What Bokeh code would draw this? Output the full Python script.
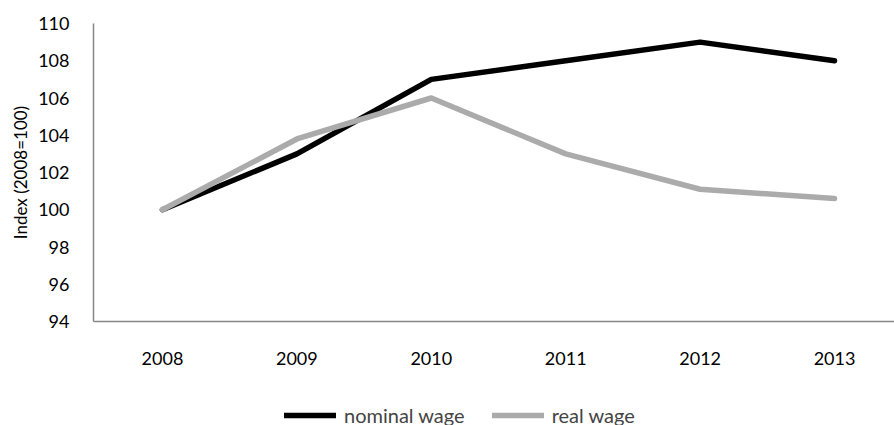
from bokeh.plotting import figure
from bokeh.layouts import column
from bokeh.models import Legend, LegendItem, Range1d, FixedTicker, Title
from bokeh.embed import file_html
from bokeh.resources import INLINE

years = [2008, 2009, 2010, 2011, 2012, 2013]
nominal_wage = [100, 103, 107, 108, 109, 108]
real_wage = [100, 103.8, 106, 103, 101.1, 100.6]
y_ticks = [94, 96, 98, 100, 102, 104, 106, 108, 110]
series_names = ["nominal wage", "real wage"]
series_colors = ["black", "#ababab"]

FONT = "Lato"
H_MAIN = 395

p = figure(width=894, height=H_MAIN, output_backend="svg", toolbar_location=None,
           x_range=Range1d(2007.487, 2013.446), y_range=Range1d(94, 110),
           min_border_left=93, min_border_right=0, min_border_top=23,
           min_border_bottom=H_MAIN - 321)
p.outline_line_color = None
p.xgrid.grid_line_color = None
p.ygrid.grid_line_color = None

for vals, col in zip([nominal_wage, real_wage], series_colors):
    p.line(years, vals, line_color=col, line_width=5.5, line_cap="round", line_join="round")

for ax in (p.xaxis[0], p.yaxis[0]):
    ax.axis_line_color = "#868686"
    ax.axis_line_width = 1.5
    ax.major_tick_line_color = None
    ax.minor_tick_line_color = None
    ax.major_label_text_font = FONT
    ax.major_label_text_font_size = "18px"
    ax.major_label_text_color = "black"

p.xaxis[0].ticker = FixedTicker(ticks=years)
p.xaxis[0].major_label_standoff = 24
p.yaxis[0].ticker = FixedTicker(ticks=y_ticks)
p.yaxis[0].major_label_standoff = 18

p.add_layout(Title(text="Index (2008=100)", align="center", offset=15, standoff=10,
                   text_font=FONT, text_font_size="17px", text_font_style="normal",
                   text_color="black"), "left")

# legend strip
q = figure(width=894, height=425 - H_MAIN, output_backend="svg", toolbar_location=None,
           x_axis_type=None, y_axis_type=None,
           x_range=Range1d(2007.487, 2013.446), y_range=Range1d(94, 110),
           min_border=0)
q.outline_line_color = None
q.xgrid.grid_line_color = None
q.ygrid.grid_line_color = None
items = []
for vals, col, name in zip([nominal_wage, real_wage], series_colors, series_names):
    r = q.line(years, vals, line_color=col, line_width=5.5, line_cap="round", visible=False)
    items.append(LegendItem(label=name, renderers=[r]))

legend = Legend(items=items, orientation="horizontal", location=(191, -2),
                label_text_font=FONT, label_text_font_size="20px",
                glyph_width=52, glyph_height=16, label_standoff=8, spacing=27,
                border_line_color=None, background_fill_alpha=0, padding=0, margin=0,
                inactive_fill_alpha=0)
q.add_layout(legend, "center")

open("out.html", "w").write(file_html(column(p, q, spacing=0), INLINE))
